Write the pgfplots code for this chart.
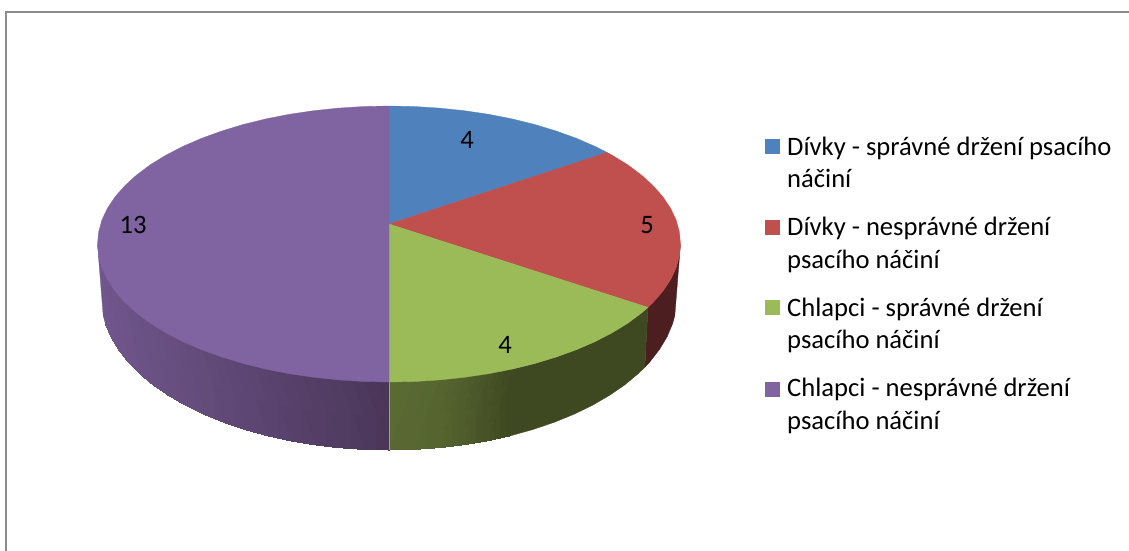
\documentclass[border=0pt]{standalone}
\usepackage{fontspec}
\setmainfont{Carlito}
\usepackage{pgfplots}
\pgfplotsset{compat=1.18}
\definecolor{cBlue}{HTML}{4F81BD}
\definecolor{cRed}{HTML}{C0504D}
\definecolor{cGreen}{HTML}{9BBB59}
\definecolor{cPurple}{HTML}{8064A2}
\definecolor{wRed}{HTML}{4D1E1F}
\definecolor{gLight}{HTML}{5A6A33}
\definecolor{gDark}{HTML}{3F4921}
\definecolor{pLight}{HTML}{70568C}
\definecolor{pDark}{HTML}{4A3659}
\definecolor{frameGray}{HTML}{8C8C8C}
\definecolor{seam}{HTML}{9AA08A}
\newcommand{\legtext}[2]{\node[anchor=base west, inner sep=0pt, font=\fontsize{26.6}{26.6}\selectfont, text=black] at (axis cs:787,#1) {#2};}
\newcommand{\vallabel}[3]{\node[anchor=base, inner sep=0pt, font=\fontsize{26.6}{26.6}\selectfont, text=black] at (axis cs:#1,#2) {#3};}
\begin{document}
\begin{tikzpicture}
\useasboundingbox (0,0) rectangle (1129pt,550pt);
\begin{axis}[at={(0,0)}, anchor=south west, scale only axis, width=1129pt, height=550pt,
  xmin=0, xmax=1129, ymin=0, ymax=550, y dir=reverse, hide axis]
% frame
\addplot[draw=frameGray, line width=2pt, forget plot] coordinates {(6,552) (6,11.5) (1131,11.5)};
% red wall
\addplot[fill=wRed, draw=wRed, line width=0.3pt, forget plot] coordinates {
(680.5,244) (679.4,256) (676.1,268) (670.6,279.7) (662.9,291.2) (653.2,302.3) (648,307.4)
(644.9,367.2) (650,361.7) (659.6,349.3) (667.2,336.6) (672.6,323.6) (674.8,315.7)} -- cycle;
% green wall, plain dark part
\addplot[fill=gDark, draw=gDark, line width=0.3pt, forget plot] coordinates {
(648,307.4) (641.4,313) (627.8,323.2) (612.3,332.7) (595.1,341.6) (576.4,349.7) (556.2,357) (534.8,363.5) (512.2,369.1)
(510.7,435.7) (533,429.5) (554.2,422.3) (574.1,414.2) (592.6,405.2) (609.6,395.3) (624.9,384.8) (638.4,373.5) (644.9,367.2)} -- cycle;
% green wall, shaded part
\addplot[patch, patch type=rectangle, shader=interp, mesh/color input=explicit, forget plot] coordinates {
(389,382) [color=gLight] (414.4,381.5) [color=gLight!95!gDark] (414.1,449.4) [color=gLight!95!gDark] (389,450) [color=gLight]
(414.4,381.5) [color=gLight!95!gDark] (439.6,379.9) [color=gLight!85!gDark] (439,447.7) [color=gLight!85!gDark] (414.1,449.4) [color=gLight!95!gDark]
(439.6,379.9) [color=gLight!85!gDark] (464.4,377.3) [color=gLight!60!gDark] (463.5,444.8) [color=gLight!60!gDark] (439,447.7) [color=gLight!85!gDark]
(464.4,377.3) [color=gLight!60!gDark] (488.7,373.7) [color=gLight!30!gDark] (487.5,440.8) [color=gLight!30!gDark] (463.5,444.8) [color=gLight!60!gDark]
(488.7,373.7) [color=gLight!30!gDark] (512.2,369.1) [color=gDark] (510.7,435.7) [color=gDark] (487.5,440.8) [color=gLight!30!gDark]
};
% purple wall
\addplot[patch, patch type=rectangle, shader=interp, mesh/color input=explicit, forget plot] coordinates {
(389,382) [color=pDark] (363.6,381.5) [color=pLight!9!pDark] (363.9,449.4) [color=pLight!9!pDark] (389,450) [color=pDark]
(363.6,381.5) [color=pLight!9!pDark] (338.4,379.9) [color=pLight!18!pDark] (339,447.7) [color=pLight!18!pDark] (363.9,449.4) [color=pLight!9!pDark]
(338.4,379.9) [color=pLight!18!pDark] (313.6,377.3) [color=pLight!26!pDark] (314.5,444.8) [color=pLight!26!pDark] (339,447.7) [color=pLight!18!pDark]
(313.6,377.3) [color=pLight!26!pDark] (289.3,373.7) [color=pLight!35!pDark] (290.5,440.8) [color=pLight!35!pDark] (314.5,444.8) [color=pLight!26!pDark]
(289.3,373.7) [color=pLight!35!pDark] (265.8,369.1) [color=pLight!43!pDark] (267.3,435.7) [color=pLight!43!pDark] (290.5,440.8) [color=pLight!35!pDark]
(265.8,369.1) [color=pLight!43!pDark] (243.2,363.5) [color=pLight!51!pDark] (245,429.5) [color=pLight!51!pDark] (267.3,435.7) [color=pLight!43!pDark]
(243.2,363.5) [color=pLight!51!pDark] (221.8,357) [color=pLight!58!pDark] (223.8,422.3) [color=pLight!58!pDark] (245,429.5) [color=pLight!51!pDark]
(221.8,357) [color=pLight!58!pDark] (201.6,349.7) [color=pLight!65!pDark] (203.9,414.2) [color=pLight!65!pDark] (223.8,422.3) [color=pLight!58!pDark]
(201.6,349.7) [color=pLight!65!pDark] (182.9,341.6) [color=pLight!72!pDark] (185.4,405.2) [color=pLight!72!pDark] (203.9,414.2) [color=pLight!65!pDark]
(182.9,341.6) [color=pLight!72!pDark] (165.7,332.7) [color=pLight!78!pDark] (168.4,395.3) [color=pLight!78!pDark] (185.4,405.2) [color=pLight!72!pDark]
(165.7,332.7) [color=pLight!78!pDark] (150.2,323.2) [color=pLight!84!pDark] (153.1,384.8) [color=pLight!84!pDark] (168.4,395.3) [color=pLight!78!pDark]
(150.2,323.2) [color=pLight!84!pDark] (136.6,313) [color=pLight!88!pDark] (139.6,373.5) [color=pLight!88!pDark] (153.1,384.8) [color=pLight!84!pDark]
(136.6,313) [color=pLight!88!pDark] (124.8,302.3) [color=pLight!92!pDark] (128,361.7) [color=pLight!92!pDark] (139.6,373.5) [color=pLight!88!pDark]
(124.8,302.3) [color=pLight!92!pDark] (115.1,291.2) [color=pLight!95!pDark] (118.4,349.3) [color=pLight!95!pDark] (128,361.7) [color=pLight!92!pDark]
(115.1,291.2) [color=pLight!95!pDark] (107.4,279.7) [color=pLight!98!pDark] (110.8,336.6) [color=pLight!98!pDark] (118.4,349.3) [color=pLight!95!pDark]
(107.4,279.7) [color=pLight!98!pDark] (101.9,268) [color=pLight] (105.4,323.6) [color=pLight] (110.8,336.6) [color=pLight!98!pDark]
};
\addplot[fill=pLight, draw=pLight, line width=0.3pt, forget plot] coordinates {
(101.9,268) (98.6,256) (97.5,244) (103.2,315.7) (105.4,323.6)} -- cycle;
\addplot[draw=seam, line width=0.4pt, forget plot] coordinates {(389,382) (389,449.5)};
% top faces, values 4, 5, 4, 13
\addplot[fill=cBlue, draw=cBlue, line width=0.3pt, forget plot] coordinates {
(389,224) (389,106) (414.4,106.5) (439.6,108.1) (464.4,110.7) (488.7,114.3) (512.2,118.9)
(534.8,124.5) (556.2,131) (576.4,138.3) (595.1,146.4) (607,152.4)} -- cycle;
\addplot[fill=cRed, draw=cRed, line width=0.3pt, forget plot] coordinates {
(389,224) (607,152.4) (612.3,155.3) (627.8,164.8) (641.4,175) (653.2,185.7) (662.9,196.8)
(670.6,208.3) (676.1,220) (679.4,232) (680.5,244) (679.4,256) (676.1,268) (670.6,279.7)
(662.9,291.2) (653.2,302.3) (648,307.4)} -- cycle;
\addplot[fill=cGreen, draw=cGreen, line width=0.3pt, forget plot] coordinates {
(389,224) (648,307.4) (641.4,313) (627.8,323.2) (612.3,332.7) (595.1,341.6) (576.4,349.7)
(556.2,357) (534.8,363.5) (512.2,369.1) (488.7,373.7) (464.4,377.3) (439.6,379.9) (414.4,381.5) (389,382)} -- cycle;
\addplot[fill=cPurple, draw=cPurple, line width=0.3pt, forget plot] coordinates {
(389,224) (389,382) (363.6,381.5) (338.4,379.9) (313.6,377.3) (289.3,373.7) (265.8,369.1)
(243.2,363.5) (221.8,357) (201.6,349.7) (182.9,341.6) (165.7,332.7) (150.2,323.2) (136.6,313)
(124.8,302.3) (115.1,291.2) (107.4,279.7) (101.9,268) (98.6,256) (97.5,244) (98.6,232)
(101.9,220) (107.4,208.3) (115.1,196.8) (124.8,185.7) (136.6,175) (150.2,164.8) (165.7,155.3)
(182.9,146.4) (201.6,138.3) (221.8,131) (243.2,124.5) (265.8,118.9) (289.3,114.3) (313.6,110.7)
(338.4,108.1) (363.6,106.5) (389,106)} -- cycle;
% data labels
\vallabel{467}{148}{4}
\vallabel{647}{233}{5}
\vallabel{505}{353}{4}
\vallabel{133}{233}{13}
% legend
\addplot[fill=cBlue, draw=none, forget plot] coordinates {(765,139) (780,139) (780,154) (765,154)} -- cycle;
\addplot[fill=cRed, draw=none, forget plot] coordinates {(765,220) (780,220) (780,235) (765,235)} -- cycle;
\addplot[fill=cGreen, draw=none, forget plot] coordinates {(765,300) (780,300) (780,315) (765,315)} -- cycle;
\addplot[fill=cPurple, draw=none, forget plot] coordinates {(765,382) (780,382) (780,397) (765,397)} -- cycle;
\legtext{155}{Dívky - správné držení psacího}
\legtext{187}{náčiní}
\legtext{235}{Dívky - nesprávné držení}
\legtext{268}{psacího náčiní}
\legtext{316}{Chlapci - správné držení}
\legtext{348}{psacího náčiní}
\legtext{396}{Chlapci - nesprávné držení}
\legtext{429}{psacího náčiní}
\end{axis}
\end{tikzpicture}
\end{document}
